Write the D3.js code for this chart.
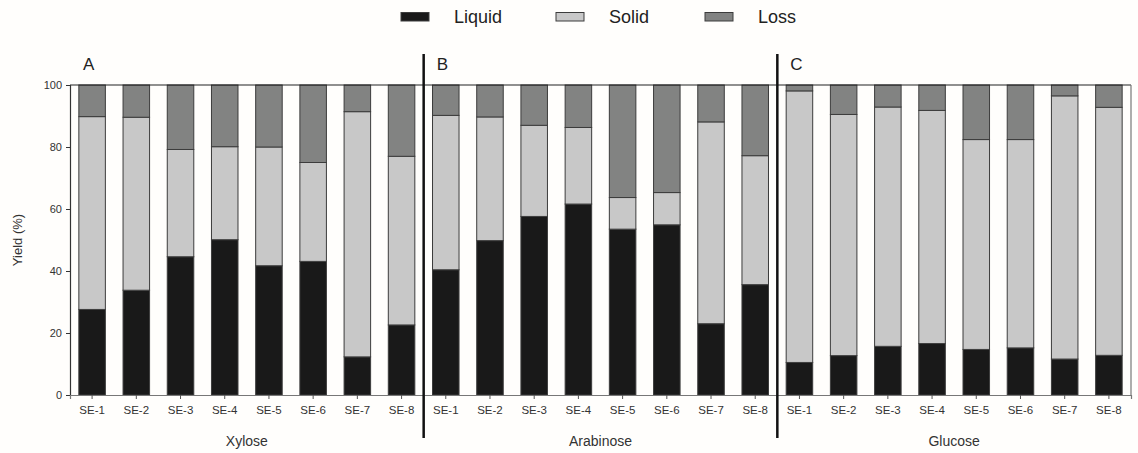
<!DOCTYPE html>
<html>
<head>
<meta charset="utf-8">
<script src="https://cdn.jsdelivr.net/npm/d3@7"></script>
<style>
body{margin:0;background:#fffefc;}
text{font-family:"Liberation Sans",Arial,sans-serif;fill:#222;}
</style>
</head>
<body>
<div id="plot"></div>
<script>
// data
var sugars = ['Xylose','Arabinose','Glucose'];
var panels = ['A','B','C'];
var runs = ['SE-1','SE-2','SE-3','SE-4','SE-5','SE-6','SE-7','SE-8'];
var series = ['Liquid','Solid','Loss'];
var yTicks = [0,20,40,60,80,100];

var xyloseLiquid = [27.6,33.8,44.6,50.1,41.7,43.1,12.3,22.6];
var xyloseSolid  = [62.2,55.8,34.6,30.0,38.3,31.9,79.1,54.4];
var xyloseLoss   = [10.2,10.4,20.8,19.9,20.0,25.0,8.6,23.0];

var arabinoseLiquid = [40.4,49.8,57.6,61.6,53.5,54.9,23.0,35.6];
var arabinoseSolid  = [49.8,39.9,29.4,24.7,10.2,10.4,65.1,41.6];
var arabinoseLoss   = [9.8,10.3,13.0,13.7,36.3,34.7,11.9,22.8];

var glucoseLiquid = [10.5,12.7,15.7,16.6,14.7,15.2,11.6,12.8];
var glucoseSolid  = [87.6,77.8,77.2,75.2,67.7,67.2,84.9,80.0];
var glucoseLoss   = [1.9,9.5,7.1,8.2,17.6,17.6,3.5,7.2];

var W = 1138, H = 453;
var m = {t:85,r:7,b:58,l:70},
	width = W - m.l - m.r,
	height = 395 - m.t;

var colors = {Liquid:'#191919', Solid:'#c8c8c8', Loss:'#828382'};

var table = [];
var byGroup = {
	Xylose:[xyloseLiquid,xyloseSolid,xyloseLoss],
	Arabinose:[arabinoseLiquid,arabinoseSolid,arabinoseLoss],
	Glucose:[glucoseLiquid,glucoseSolid,glucoseLoss]
};
sugars.forEach(function(s){
	runs.forEach(function(r,i){
		table.push({key:s+'|'+r, sugar:s, run:r,
			Liquid:byGroup[s][0][i], Solid:byGroup[s][1][i], Loss:byGroup[s][2][i]});
	});
});

var svg = d3.select('#plot')
	.append('svg')
	.attr('width',W)
	.attr('height',H);

var plot = svg.append('g')
	.attr('transform','translate('+m.l+','+m.t+')');

var x = d3.scaleBand()
	.domain(table.map(function(d){return d.key;}))
	.range([0,width])
	.paddingInner(0.4)
	.paddingOuter(0.2);

var y = d3.scaleLinear().domain([0,100]).range([height,0]);

var stacked = d3.stack().keys(series)(table);

plot.selectAll('g.layer')
	.data(stacked)
	.enter().append('g')
	.attr('class','layer')
	.style('fill',function(d){return colors[d.key];})
	.selectAll('rect')
	.data(function(d){return d;})
	.enter().append('rect')
	.attr('x',function(d){return x(d.data.key);})
	.attr('width',x.bandwidth())
	.attr('y',function(d){return y(d[1]);})
	.attr('height',function(d){return y(d[0])-y(d[1]);})
	.style('stroke','#3c3c3c')
	.style('stroke-width',1);

// frame: top and right
plot.append('line').attr('x1',0).attr('x2',width).attr('y1',0).attr('y2',0)
	.style('stroke','#222').style('stroke-width',1.2);
plot.append('line').attr('x1',width).attr('x2',width).attr('y1',0).attr('y2',height)
	.style('stroke','#777').style('stroke-width',1.2);

//y axis
var yAxis = plot.append('g')
	.call(d3.axisLeft(y).tickValues(yTicks).tickSize(4).tickPadding(4));
yAxis.select('.domain').style('stroke','#333').style('stroke-width',1.2);
yAxis.selectAll('.tick line').style('stroke','#333');
yAxis.selectAll('text').style('font-size','11px').style('fill','#333')
	.style('font-family','"Liberation Sans",Arial,sans-serif');

//x axis
var xAxis = plot.append('g')
	.attr('transform','translate(0,'+height+')')
	.call(d3.axisBottom(x).tickSize(4).tickPadding(7).tickFormat(function(k){return k.split('|')[1];}));
xAxis.select('.domain').style('stroke','#777').style('stroke-width',1.2);
xAxis.selectAll('.tick line').style('stroke','#555');
xAxis.selectAll('text').style('font-size','11.5px').style('fill','#333')
	.style('font-family','"Liberation Sans",Arial,sans-serif');

// panels: separators, letters, group titles
var step = x.step();
sugars.forEach(function(s,i){
	var x0 = x(s+'|'+runs[0]) - step*x.paddingOuter() ;
	var x0b = i===0 ? 0 : x(s+'|'+runs[0]) - step*x.paddingInner()/2;
	var xEnd = x(s+'|'+runs[runs.length-1]) + x.bandwidth();
	if(i>0){
		plot.append('line')
			.attr('x1',x0b).attr('x2',x0b)
			.attr('y1',-31).attr('y2',height+43)
			.style('stroke','#111').style('stroke-width',2.5);
	}
	plot.append('text')
		.attr('x',x0b+13).attr('y',-15)
		.style('font-size','17px')
		.text(panels[i]);
	plot.append('text')
		.attr('x',(x(s+'|'+runs[0])+xEnd)/2)
		.attr('y',height+51)
		.attr('text-anchor','middle')
		.style('font-size','14px')
		.style('fill','#333')
		.text(s);
});

// y label
svg.append('text')
	.attr('transform','translate(22,'+(m.t+height/2)+') rotate(-90)')
	.attr('text-anchor','middle')
	.style('font-size','13px')
	.style('fill','#333')
	.text('Yield (%)');

// legend
var legX = [401,556,705];
var legend = svg.selectAll('g.leg')
	.data(series)
	.enter().append('g')
	.attr('class','leg')
	.attr('transform',function(d,i){return 'translate('+legX[i]+',0)';});
legend.append('rect')
	.attr('x',0).attr('y',12.5)
	.attr('width',28).attr('height',8.5)
	.style('fill',function(d){return colors[d];})
	.style('stroke','#3c3c3c');
legend.append('text')
	.attr('x',53).attr('y',22.5)
	.style('font-size','18px')
	.text(function(d){return d;});
</script>
</body>
</html>
